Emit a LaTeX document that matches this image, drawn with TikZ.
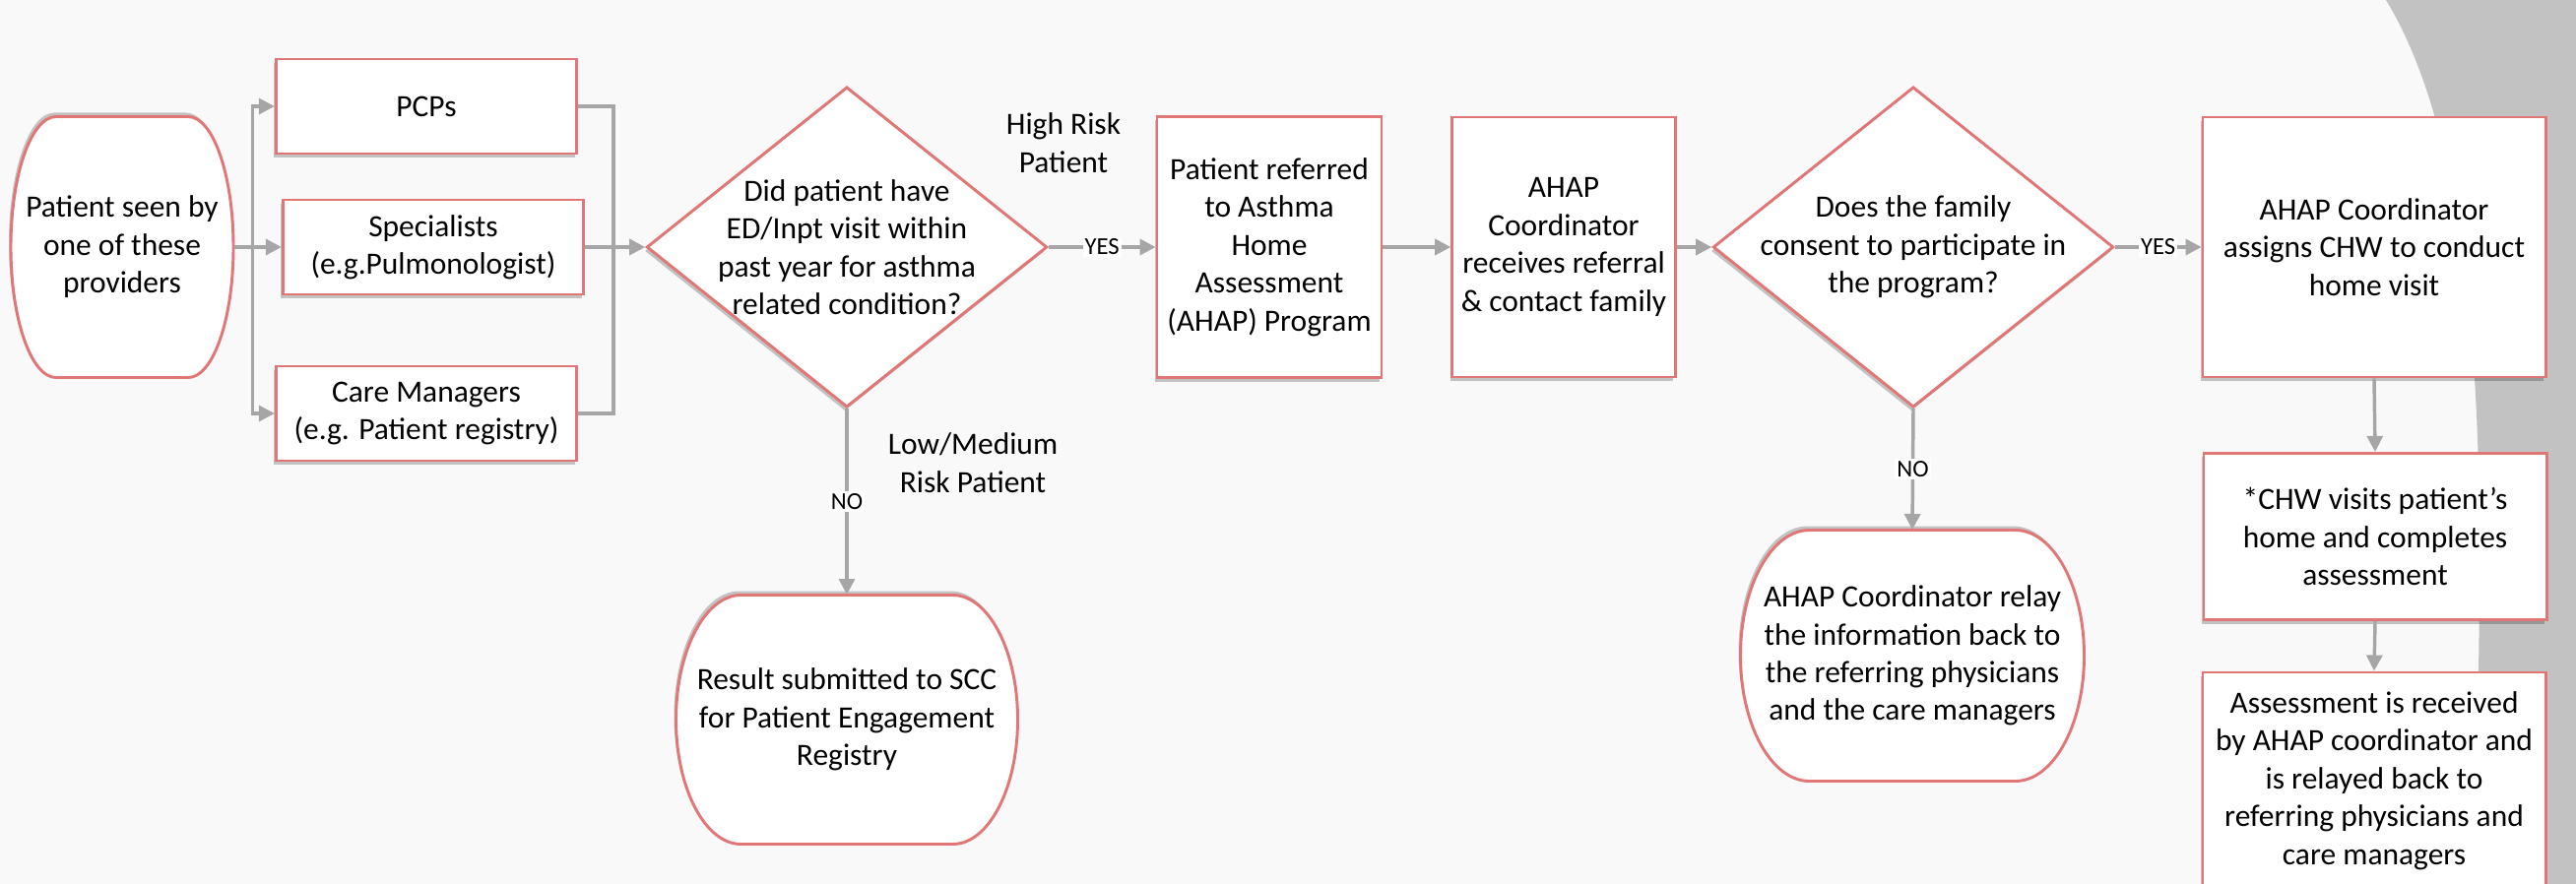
\documentclass[tikz,border=0pt]{standalone}
\usepackage{fontspec}
\setmainfont{Carlito}
\usetikzlibrary{arrows.meta,shapes.geometric,shadows}

\definecolor{boxred}{RGB}{224,118,118}
\definecolor{linegray}{RGB}{166,166,166}
\definecolor{pagebg}{RGB}{249,249,249}
\definecolor{sidegray}{RGB}{194,194,194}

\tikzset{every picture/.style={line width=0.75pt},
  txt/.style={font=\fontsize{23.6}{28.8}\selectfont},
  box/.style={txt, draw=boxred, fill=white, line width=2.2pt, align=center, inner sep=2pt,
    drop shadow={shadow xshift=-1.5pt, shadow yshift=-3pt, fill=black, opacity=0.22}},
  provider/.style={box, minimum width=229pt, minimum height=72pt},
  decision/.style={box, diamond, minimum width=305pt, minimum height=244pt, inner sep=0pt},
  termline/.style={draw=boxred, fill=white, line width=2.2pt,
    drop shadow={shadow xshift=-1.5pt, shadow yshift=3pt, fill=black, opacity=0.22}},
  termtext/.style={txt, align=center, inner sep=0pt},
  note/.style={txt, align=center, inner sep=0pt},
  conn/.style={draw=linegray, line width=2.6pt},
  flow/.style={conn, -{Triangle[length=12pt,width=12pt]}},
  yesno/.style={fill=white, inner sep=1.5pt, font=\fontsize{18.5}{20}\selectfont}
}

% terminator: name, x, y, width, height, end radius, text
\newcommand{\terminal}[7]{%
  \draw[termline] (#2-#4/2+#6,#3-#5/2) -- (#2+#4/2-#6,#3-#5/2)
    .. controls (#2+#4/2-0.448*#6,#3-#5/2) and (#2+#4/2,#3-0.552*#5/2) .. (#2+#4/2,#3)
    .. controls (#2+#4/2,#3+0.552*#5/2) and (#2+#4/2-0.448*#6,#3+#5/2) .. (#2+#4/2-#6,#3+#5/2)
    -- (#2-#4/2+#6,#3+#5/2)
    .. controls (#2-#4/2+0.448*#6,#3+#5/2) and (#2-#4/2,#3+0.552*#5/2) .. (#2-#4/2,#3)
    .. controls (#2-#4/2,#3-0.552*#5/2) and (#2-#4/2+0.448*#6,#3-#5/2) .. cycle;
  \node[termtext, minimum width=#4*0.75pt, minimum height=#5*0.75pt] (#1) at (#2,#3) {#7};
}

\begin{document}
\begin{tikzpicture}[x=0.75pt,y=0.75pt,yscale=-1,xscale=1]
\useasboundingbox (0,0) rectangle (2616,898);

%Shape: page background
\fill[pagebg] (0,0) rectangle (2616,898);
%Shape: grey side panel
\fill[sidegray] (2423,0) .. controls (2490,110) and (2518,300) .. (2518,560) .. controls (2518,700) and (2514,800) .. (2512,898) -- (2616,898) -- (2616,0) -- cycle;

%Terminator: start
\terminal{start}{124}{251}{226}{265}{46}{Patient seen by\\one of these\\providers}

%Providers
\node[provider] (pcp) at (433,108) {PCPs};
\node[provider] (spec) at (440,251) {Specialists\\(e.g.Pulmonologist)};
\node[provider] (cm) at (433,420) {Care Managers\\(e.g. Patient registry)};
\coordinate (busR) at (623,251);

%Decision: high risk
\node[decision] (q1) at (860,251) {};
\node[note] (q1text) at (q1) {Did patient have\\ED/Inpt visit within\\past year for asthma\\related condition?};

% Text Node
\node[note] (high) at (1080,145) {High Risk\\Patient};
% Text Node
\node[note] (lowmed) at (988,470) {Low/Medium\\Risk Patient};

%Terminator: result
\terminal{result}{860}{731}{347}{253}{66}{Result submitted to SCC\\for Patient Engagement\\Registry}

%Process boxes
\node[box, minimum width=171pt, minimum height=199pt] (refer) at (1289,251) {Patient referred\\to Asthma\\Home\\Assessment\\(AHAP) Program};
\node[box, minimum width=170pt, minimum height=198pt] (ahap) at (1588,251) {AHAP\\Coordinator\\receives referral\\\& contact family};

%Decision: consent
\node[decision] (q2) at (1943,251) {};
\node[note] (q2text) at (q2) {Does the family\\consent to participate in\\the program?};

%Terminator: relay
\terminal{relay}{1942}{666}{349}{255}{70}{AHAP Coordinator relay\\the information back to\\the referring physicians\\and the care managers}

%Home visit column
\node[box, minimum width=261pt, minimum height=198pt] (assign) at (2411,251) {AHAP Coordinator\\assigns CHW to conduct\\home visit};
\node[box, minimum width=261pt, minimum height=127pt] (chw) at (2412,545) {*CHW visits patient’s\\home and completes\\assessment};
\node[box, minimum width=261pt, minimum height=165pt] (assess) at (2411,793) {Assessment is received\\by AHAP coordinator and\\is relayed back to\\referring physicians and\\care managers};

%Connectors
\draw[flow] (start.east) -- (spec.west);
\draw[flow] (start.east) -- ++(19,0) |- (pcp.west);
\draw[flow] (start.east) -- ++(19,0) |- (cm.west);
\draw[conn] (pcp.east) -| (busR);
\draw[conn] (cm.east) -| (busR);
\draw[flow] (spec.east) -- (q1.west);
\draw[flow] (q1.east) -- node[yesno] (yes1) {YES} (refer.west);
\draw[flow] (q1.south) -- node[yesno] (no1) {NO} (result.north);
\draw[flow] (refer.east) -- (ahap.west);
\draw[flow] (ahap.east) -- (q2.west);
\draw[flow] (q2.east) -- node[yesno] (yes2) {YES} (assign.west);
\draw[flow] (q2.south) -- node[yesno] (no2) {NO} (relay.north);
\draw[flow] (assign.south) -- (chw.north);
\draw[flow] (chw.south) -- (assess.north);

\end{tikzpicture}
\end{document}
